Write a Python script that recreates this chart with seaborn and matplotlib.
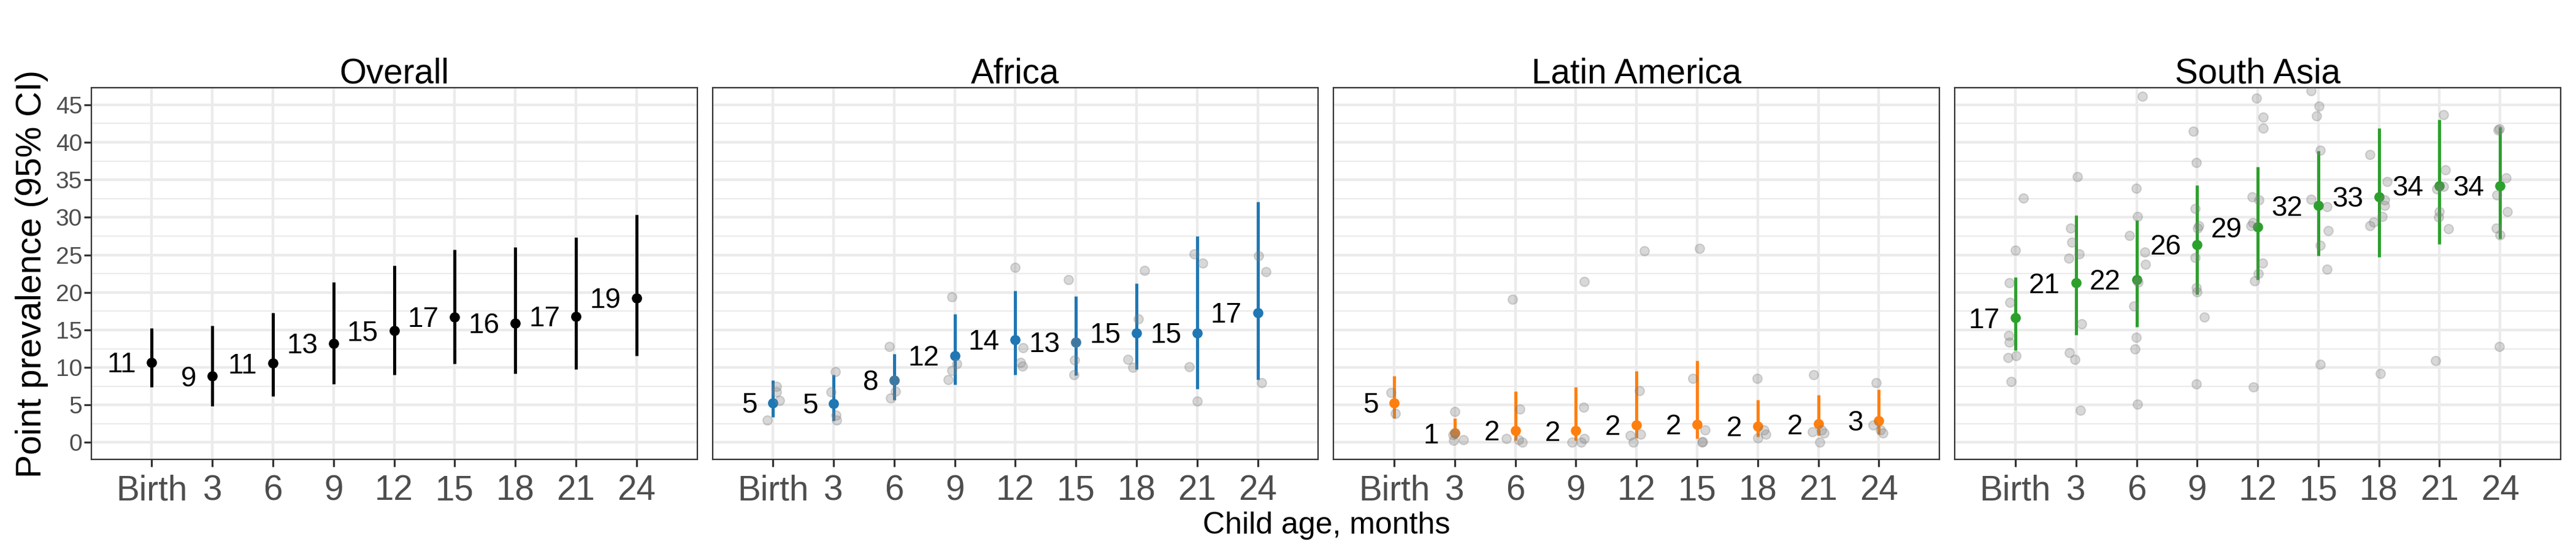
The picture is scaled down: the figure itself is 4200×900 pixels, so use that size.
import numpy as np
import pandas as pd
import matplotlib
matplotlib.use("Agg")
import matplotlib.pyplot as plt
import seaborn as sns
from matplotlib.ticker import MultipleLocator

# --- data ---
ages = ["Birth", "3", "6", "9", "12", "15", "18", "21", "24"]
regions = ["Overall", "Africa", "Latin America", "South Asia"]
region_colors = ["black", "#1f77b4", "#ff7f0e", "#2ca02c"]

# pooled point prevalence and 95% CI per age
overall_est = [10.7, 8.85, 10.56, 13.2, 14.9, 16.75, 15.9, 16.8, 19.25]
overall_lo = [7.4, 4.86, 6.2, 7.8, 9.0, 10.5, 9.2, 9.8, 11.55]
overall_hi = [15.2, 15.6, 17.3, 21.4, 23.6, 25.7, 26.0, 27.35, 30.4]

africa_est = [5.3, 5.2, 8.3, 11.6, 13.7, 13.4, 14.6, 14.6, 17.3]
africa_lo = [3.4, 2.9, 5.7, 7.7, 9.0, 8.95, 9.8, 7.15, 8.4]
africa_hi = [8.3, 9.0, 11.8, 17.1, 20.2, 19.45, 21.2, 27.5, 32.1]

latam_est = [5.3, 1.25, 1.6, 1.55, 2.35, 2.4, 2.2, 2.45, 2.9]
latam_lo = [3.2, 0.53, 0.32, 0.32, 0.6, 0.5, 0.8, 0.95, 1.1]
latam_hi = [8.85, 3.2, 6.85, 7.4, 9.55, 10.9, 5.7, 6.3, 7.05]

sasia_est = [16.6, 21.25, 21.7, 26.35, 28.7, 31.55, 32.75, 34.2, 34.2]
sasia_lo = [12.3, 14.35, 15.4, 19.75, 21.7, 24.9, 24.7, 26.4, 27.15]
sasia_hi = [22.0, 30.25, 29.6, 34.25, 36.7, 38.9, 41.9, 43.05, 42.05]

# single-study estimates per age, with the horizontal jitter seen in the picture
africa_pts = [[7.5, 6.75, 5.6, 3.0], [9.4, 6.7, 3.6, 3.0], [12.75, 8.3, 6.8, 5.9],
              [19.4, 10.5, 9.6, 8.4], [23.3, 12.6, 10.7, 10.2], [21.7, 13.4, 11.0, 9.0],
              [22.9, 16.5, 11.1, 10.0], [25.1, 23.9, 10.05, 5.5], [24.9, 22.8, 8.0]]
africa_jit = [[0.06, 0.06, 0.11, -0.09], [0.03, -0.04, 0.04, 0.05], [-0.075, 0.0, 0.02, -0.06],
              [-0.05, 0.03, -0.05, -0.11], [0.0, 0.13, 0.09, 0.12], [-0.12, 0.0, -0.02, -0.03],
              [0.13, 0.03, -0.14, -0.06], [-0.05, 0.09, -0.13, 0.0], [0.01, 0.14, 0.07]]

latam_pts = [[6.65, 3.9], [4.15, 1.25, 1.0, 0.3, 0.4], [19.1, 4.45, 0.5, 0.4, 0.0],
             [21.45, 4.7, 0.5, 0.0, 0.0], [25.5, 6.9, 0.95, 1.1, 0.0], [25.9, 8.5, 1.65, 0.0, 0.1],
             [8.55, 1.65, 1.07, 0.6], [9.0, 1.65, 1.3, 1.45, 0.0], [8.0, 2.35, 1.65, 1.25]]
latam_jit = [[-0.05, 0.02], [0.0, 0.0, -0.03, -0.02, 0.14], [-0.05, 0.07, -0.15, 0.05, 0.11],
             [0.14, 0.13, 0.14, -0.07, 0.09], [0.13, 0.05, -0.1, 0.07, -0.05], [0.04, -0.07, 0.13, 0.08, 0.09],
             [-0.01, 0.1, 0.13, 0.0], [-0.08, 0.05, 0.1, -0.1, 0.02], [-0.04, -0.1, 0.03, 0.07]]

sasia_pts = [[32.55, 25.6, 21.3, 18.7, 14.25, 13.4, 11.55, 11.35, 8.1],
             [35.4, 28.6, 26.7, 25.1, 24.55, 15.8, 11.95, 11.1, 4.3],
             [46.15, 33.9, 30.15, 27.6, 25.35, 23.7, 21.4, 18.2, 14.0, 12.5, 5.1],
             [41.45, 37.3, 31.2, 28.9, 28.6, 24.65, 20.65, 20.05, 16.7, 7.8],
             [45.85, 43.35, 41.9, 32.7, 32.35, 28.9, 29.3, 23.9, 22.5, 21.5, 7.4],
             [46.85, 44.8, 43.55, 38.95, 32.4, 31.45, 28.25, 26.3, 23.1, 10.4],
             [38.35, 34.8, 32.35, 31.6, 30.15, 29.4, 28.9, 9.2],
             [43.65, 36.3, 34.15, 33.8, 30.75, 30.05, 28.45, 10.9],
             [41.8, 41.6, 35.25, 32.95, 30.75, 28.6, 27.7, 12.75]]
sasia_jit = [[0.13, 0.0, -0.10, -0.09, -0.11, -0.10, 0.01, -0.12, -0.07],
             [0.02, -0.09, -0.07, 0.05, -0.12, 0.09, -0.11, -0.02, 0.07],
             [0.10, -0.01, 0.01, -0.12, 0.14, 0.15, 0.03, -0.05, -0.01, -0.03, 0.02],
             [-0.06, -0.01, -0.03, 0.03, 0.01, -0.03, -0.01, 0.0, 0.12, -0.01],
             [-0.02, 0.09, 0.09, -0.09, 0.02, -0.11, -0.08, 0.08, 0.01, -0.05, -0.07],
             [-0.12, 0.01, -0.03, 0.03, -0.12, 0.14, 0.16, 0.03, 0.14, 0.03],
             [-0.15, 0.14, 0.09, 0.09, 0.05, -0.09, -0.15, 0.02],
             [0.07, 0.10, 0.07, -0.05, 0.0, -0.01, 0.15, -0.07],
             [-0.01, -0.03, 0.10, -0.05, 0.12, -0.06, 0.0, -0.01]]

pooled_sets = [(overall_est, overall_lo, overall_hi), (africa_est, africa_lo, africa_hi),
               (latam_est, latam_lo, latam_hi), (sasia_est, sasia_lo, sasia_hi)]
study_sets = [(None, None), (africa_pts, africa_jit), (latam_pts, latam_jit), (sasia_pts, sasia_jit)]

# build long tables for seaborn
rows = []
for r, (est, lo, hi) in zip(regions, pooled_sets):
    for i, a in enumerate(ages):
        rows.append(dict(region=r, age=a, pos=i + 1, est=est[i], lo=lo[i], hi=hi[i]))
pooled = pd.DataFrame(rows)

rows = []
for r, (pts, jit) in zip(regions, study_sets):
    if pts is None:
        continue
    for i, (vals, dxs) in enumerate(zip(pts, jit)):
        for v, dx in zip(vals, dxs):
            rows.append(dict(region=r, x=i + 1 + dx, value=v))
studies = pd.DataFrame(rows)

# --- style ---
sns.set_theme(style="white")
plt.rcParams["font.family"] = ["Liberation Sans", "DejaVu Sans"]

fig = plt.figure(figsize=(42, 9), dpi=100)
axes = fig.subplots(1, 4, sharey=True)
fig.subplots_adjust(left=0.0354, right=0.99405, bottom=0.1678, top=0.8407, wspace=0.0253)

grid_col = "#EBEBEB"
for k, (ax, r, col) in enumerate(zip(axes, regions, region_colors)):
    sub = pooled[pooled.region == r]
    ax.vlines(sub.pos, sub.lo, sub.hi, color=col, lw=3.6, zorder=2)
    sns.scatterplot(data=sub, x="pos", y="est", color=col, s=144, linewidth=0, ax=ax, zorder=3)
    st = studies[studies.region == r]
    if len(st):
        sns.scatterplot(data=st, x="x", y="value", color="#7f7f7f", alpha=0.3, s=115,
                        edgecolor="#7f7f7f", linewidth=1.5, ax=ax, zorder=4)
    for p, e in zip(sub.pos, sub.est):
        ax.annotate(f"{e:.0f}", (p, e), xytext=(-18.5, -11.8), textcoords="offset points",
                    ha="right", va="baseline", fontsize=33, color="black", zorder=5)

    ax.set_xlim(0, 10)
    ax.set_ylim(-2.25, 47.25)
    ax.set_xticks(range(1, len(ages) + 1))
    ax.set_xticklabels(ages)
    ax.yaxis.set_major_locator(MultipleLocator(5))
    ax.yaxis.set_minor_locator(MultipleLocator(2.5))
    ax.grid(which="major", color=grid_col, lw=3.1)
    ax.grid(which="minor", axis="y", color=grid_col, lw=1.6)
    ax.set_axisbelow(True)
    for s in ax.spines.values():
        s.set_color("#333333")
        s.set_linewidth(1.6)
    ax.tick_params(axis="x", which="major", length=8.6, width=2.3, color="#333333",
                   labelsize=40.7, labelcolor="#4D4D4D", pad=9, bottom=True)
    ax.tick_params(axis="y", which="major", length=8.6, width=2.3, color="#333333",
                   labelsize=28, labelcolor="#4D4D4D", pad=2, left=True)
    ax.tick_params(axis="y", which="minor", length=0)
    if k > 0:
        ax.tick_params(axis="y", which="major", length=0)
    ax.set_xlabel("")
    ax.set_ylabel("")
    ax.set_title(r, fontsize=40.7, pad=5.8, color="black")

axes[0].set_ylabel("Point prevalence (95% CI)", fontsize=41, labelpad=8, color="black")
fig.text(2162.5 / 4200, 1 - 870 / 900, "Child age, months", ha="center", va="baseline",
         fontsize=36, color="black")

fig.savefig("out.png", dpi=100)
